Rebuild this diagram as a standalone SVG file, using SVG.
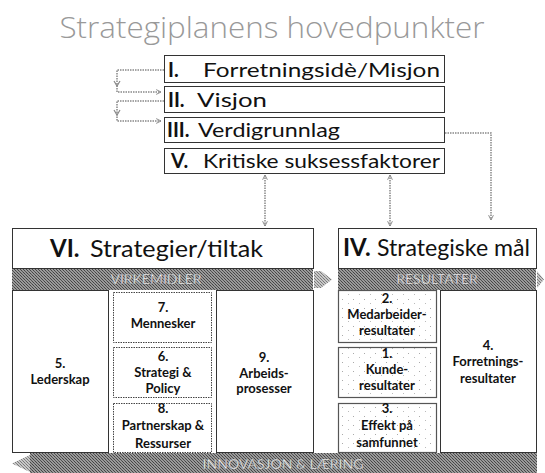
<svg xmlns="http://www.w3.org/2000/svg" width="545" height="473" viewBox="0 0 545 473">
<style>
.t{font-family:Lato,"Open Sans","Liberation Sans",sans-serif;fill:#111}
.b{font-weight:bold}
.box{fill:#fff;stroke:#333;stroke-width:1}
.dbox{fill:#fff;stroke:#444;stroke-width:1;stroke-dasharray:1.5 1}
.sbox{fill:url(#stip);stroke:#555;stroke-width:1.2}
.lbl{font-family:Lato,"Open Sans","Liberation Sans",sans-serif;font-weight:bold;font-size:13px;fill:#111;text-anchor:middle}
.band{fill:url(#hatch)}
.bandarrow{fill:url(#hatchL)}
.bt{font-family:Lato,"Open Sans","Liberation Sans",sans-serif;font-size:14px;fill:#fff;text-anchor:middle;stroke:#666;stroke-width:0.4}
.con{fill:none;stroke:#888;stroke-width:1.5;stroke-dasharray:1.5 1}
</style>
<defs>
<pattern id="hatch" width="3" height="3" patternUnits="userSpaceOnUse">
<rect width="3" height="3" fill="#9a9a9a"/>
<rect width="1" height="1" fill="#444"/>
<rect x="1" y="1" width="1" height="1" fill="#555"/>
<rect x="2" y="2" width="1" height="1" fill="#444"/>
</pattern>
<pattern id="hatchL" width="3" height="3" patternUnits="userSpaceOnUse">
<rect width="3" height="3" fill="#c8c8c8"/>
<rect width="1" height="1" fill="#777"/>
<rect x="1" y="1" width="1" height="1" fill="#888"/>
<rect x="2" y="2" width="1" height="1" fill="#777"/>
</pattern>
<pattern id="stip" width="11" height="9" patternUnits="userSpaceOnUse">
<rect width="11" height="9" fill="#fff"/>
<rect x="1" y="2" width="1" height="1" fill="#aaa"/>
<rect x="7" y="6" width="1" height="1" fill="#bbb"/>
</pattern>
<marker id="arr" viewBox="0 0 10 10" refX="9" refY="5" markerWidth="6" markerHeight="6" orient="auto-start-reverse" markerUnits="userSpaceOnUse">
<path d="M1,1 L9,5 L1,9" fill="none" stroke="#888" stroke-width="1.6"/>
</marker>
</defs>

<text x="272" y="38" text-anchor="middle" font-family="'Open Sans',Lato,'Liberation Sans',sans-serif" font-weight="300" font-size="30" fill="#999" textLength="425" lengthAdjust="spacingAndGlyphs">Strategiplanens hovedpunkter</text>

<g id="connectors">
<path class="con" d="M164,70 H117 V92 H161" marker-end="url(#arr)"/>
<path d="M114,81 L117,86 L120,81" fill="none" stroke="#888" stroke-width="1.2"/>
<path class="con" d="M164,101 H117 V121 H161" marker-end="url(#arr)"/>
<path d="M114,110 L117,115 L120,110" fill="none" stroke="#888" stroke-width="1.2"/>
<path class="con" d="M445,133 H491 V220" marker-end="url(#arr)"/>
<path class="con" d="M265,175 V226" marker-start="url(#arr)" marker-end="url(#arr)"/>
<path class="con" d="M390,175 V226" marker-start="url(#arr)" marker-end="url(#arr)"/>
</g>

<g id="n-I">
<rect class="box" x="164.5" y="55.5" width="280" height="27"/>
<text class="t b" x="168" y="77" font-size="20">I.</text>
<text class="t" x="203" y="77" font-size="20" textLength="237" lengthAdjust="spacingAndGlyphs">Forretningsidè/Misjon</text>
</g>
<g id="n-II">
<rect class="box" x="164.5" y="86.5" width="280" height="26"/>
<text class="t b" x="168" y="107" font-size="20">II.</text>
<text class="t" x="197" y="107" font-size="20" textLength="70" lengthAdjust="spacingAndGlyphs">Visjon</text>
</g>
<g id="n-III">
<rect class="box" x="164.5" y="117.5" width="280" height="25"/>
<text class="t b" x="167" y="137" font-size="20">III.</text>
<text class="t" x="198" y="137" font-size="20" textLength="142" lengthAdjust="spacingAndGlyphs">Verdigrunnlag</text>
</g>
<g id="n-V">
<rect class="box" x="164.5" y="148.5" width="280" height="25"/>
<text class="t b" x="171" y="168" font-size="20">V.</text>
<text class="t" x="203" y="168" font-size="20" textLength="237" lengthAdjust="spacingAndGlyphs">Kritiske suksessfaktorer</text>
</g>

<g id="n-VI">
<rect class="box" x="12.5" y="228.5" width="301" height="40"/>
<text class="t b" x="50" y="257" font-size="24">VI.</text>
<text class="t" x="90" y="257" font-size="24" textLength="173" lengthAdjust="spacingAndGlyphs">Strategier/tiltak</text>
</g>
<g id="band-virkemidler">
<rect class="band" x="12" y="269" width="301" height="21"/>
<polygon class="bandarrow" points="314,271 321,271 332,279.5 321,288 314,288"/>
<text class="bt" x="156" y="284">VIRKEMIDLER</text>
</g>
<g id="n-IV">
<rect class="box" x="338.5" y="228.5" width="198" height="40"/>
<text class="t b" x="343" y="256" font-size="24">IV.</text>
<text class="t" x="377" y="256" font-size="24" textLength="153" lengthAdjust="spacingAndGlyphs">Strategiske mål</text>
</g>
<g id="band-resultater">
<rect class="band" x="338" y="269" width="198" height="21"/>
<polygon class="bandarrow" points="537,271 537,288 544,279.5"/>
<text class="bt" x="437" y="284">RESULTATER</text>
</g>

<g id="n-5">
<rect class="box" x="12.5" y="290.5" width="96" height="162"/>
<text class="lbl" x="60" y="368">5.</text>
<text class="lbl" x="60" y="384">Lederskap</text>
</g>
<g id="n-7">
<rect class="dbox" x="113.5" y="292.5" width="98" height="50"/>
<text class="lbl" x="163" y="312">7.</text>
<text class="lbl" x="163" y="328">Mennesker</text>
</g>
<g id="n-6">
<rect class="dbox" x="113.5" y="347.5" width="98" height="50"/>
<text class="lbl" x="163" y="361">6.</text>
<text class="lbl" x="163" y="377">Strategi &amp;</text>
<text class="lbl" x="163" y="393">Policy</text>
</g>
<g id="n-8">
<rect class="dbox" x="113.5" y="403.5" width="98" height="49"/>
<text class="lbl" x="163" y="413">8.</text>
<text class="lbl" x="163" y="430">Partnerskap &amp;</text>
<text class="lbl" x="163" y="448">Ressurser</text>
</g>
<g id="n-9">
<rect class="box" x="216.5" y="290.5" width="97" height="162"/>
<text class="lbl" x="264" y="362">9.</text>
<text class="lbl" x="264" y="378">Arbeids-</text>
<text class="lbl" x="264" y="393">prosesser</text>
</g>

<g id="n-2">
<rect class="sbox" x="338.5" y="290.5" width="98" height="52"/>
<text class="lbl" x="387" y="303">2.</text>
<text class="lbl" x="387" y="319">Medarbeider-</text>
<text class="lbl" x="387" y="335">resultater</text>
</g>
<g id="n-1">
<rect class="sbox" x="338.5" y="347.5" width="98" height="50"/>
<text class="lbl" x="387" y="358">1.</text>
<text class="lbl" x="387" y="374">Kunde-</text>
<text class="lbl" x="387" y="390">resultater</text>
</g>
<g id="n-3">
<rect class="sbox" x="338.5" y="403.5" width="98" height="49"/>
<text class="lbl" x="387" y="413">3.</text>
<text class="lbl" x="387" y="430">Effekt på</text>
<text class="lbl" x="387" y="447">samfunnet</text>
</g>
<g id="n-4">
<rect class="box" x="440.5" y="290.5" width="96" height="162"/>
<text class="lbl" x="488" y="350">4.</text>
<text class="lbl" x="488" y="366">Forretnings-</text>
<text class="lbl" x="488" y="383">resultater</text>
</g>

<g id="band-innovasjon">
<rect class="band" x="30" y="453" width="507" height="20"/>
<polygon class="bandarrow" points="30,455 30,472 12,463.5"/>
<text class="bt" x="283" y="469">INNOVASJON &amp; LÆRING</text>
</g>
</svg>
